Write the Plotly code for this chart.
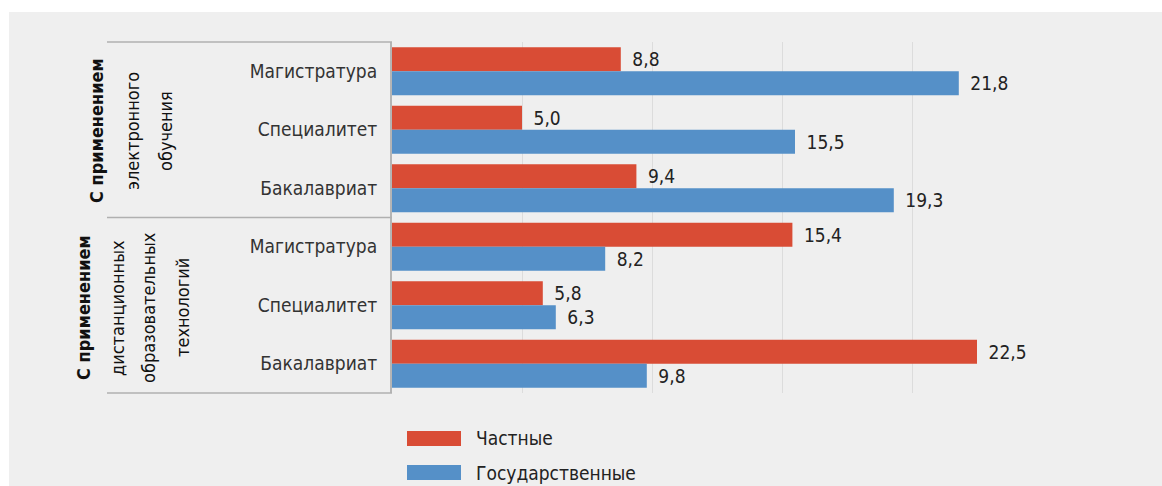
import plotly.graph_objects as go

# ---- data ----
row_ids = ["eo_mag", "eo_spec", "eo_bak", "dot_mag", "dot_spec", "dot_bak"]
row_labels = ["Магистратура", "Специалитет", "Бакалавриат",
              "Магистратура", "Специалитет", "Бакалавриат"]
private_vals = [8.8, 5.0, 9.4, 15.4, 5.8, 22.5]
state_vals = [21.8, 15.5, 19.3, 8.2, 6.3, 9.8]
series_names = ["Частные", "Государственные"]
group1_lines = ["С применением", "электронного", "обучения"]
group2_lines = ["С применением", "дистанционных", "образовательных", "технологий"]

RED = "#d94c35"
BLUE = "#5590c8"
BG = "#efefef"
TXT = "#222222"
FONT = "DejaVu Sans Condensed, Liberation Sans Narrow, Arial Narrow, sans-serif"

def fmt(v):
    return "\u2002" + f"{v:.1f}".replace(".", ",")

fig = go.Figure()
fig.add_trace(go.Bar(
    y=row_ids, x=private_vals, orientation="h", name=series_names[0],
    marker=dict(color=RED, line=dict(width=0)),
    text=[fmt(v) for v in private_vals], textposition="outside",
    textfont=dict(family=FONT, size=19, color=TXT), cliponaxis=False,
))
fig.add_trace(go.Bar(
    y=row_ids, x=state_vals, orientation="h", name=series_names[1],
    marker=dict(color=BLUE, line=dict(width=0)),
    text=[fmt(v) for v in state_vals], textposition="outside",
    textfont=dict(family=FONT, size=19, color=TXT), cliponaxis=False,
))

W, H = 1162, 486
plot_left, plot_right, plot_top, plot_bottom = 392, 1042, 42, 393  # screen px
L, R, T, B = plot_left, W - plot_right, plot_top, H - plot_bottom
pw, ph = plot_right - plot_left, plot_bottom - plot_top

def px_x(x):
    return (x - plot_left) / pw

def px_y(y):
    return (plot_bottom - y) / ph

shapes = []
# white strips at the top and left
shapes.append(dict(type="rect", xref="paper", yref="paper", x0=px_x(0), x1=px_x(1175),
                   y0=px_y(12), y1=px_y(0), fillcolor="white", line=dict(width=0), layer="above"))
shapes.append(dict(type="rect", xref="paper", yref="paper", x0=px_x(0), x1=px_x(9),
                   y0=px_y(500), y1=px_y(0), fillcolor="white", line=dict(width=0), layer="above"))
# group separator lines
for yy in [1.0, 0.5, 0.0]:
    shapes.append(dict(type="line", xref="paper", yref="paper", x0=px_x(107), x1=0,
                       y0=yy, y1=yy, line=dict(color="#b0b0b0", width=1.5)))
# legend swatches
shapes.append(dict(type="rect", xref="paper", yref="paper", x0=px_x(407), x1=px_x(461),
                   y0=px_y(431), y1=px_y(446), fillcolor=RED, line=dict(width=0)))
shapes.append(dict(type="rect", xref="paper", yref="paper", x0=px_x(407), x1=px_x(461),
                   y0=px_y(465), y1=px_y(480), fillcolor=BLUE, line=dict(width=0)))

annotations = []
for name, yc in zip(series_names, [438.5, 472.5]):
    annotations.append(dict(xref="paper", yref="paper", x=px_x(474), y=px_y(yc),
                            text=name, showarrow=False, xanchor="left", yanchor="middle",
                            font=dict(family=FONT, size=19, color=TXT)))

def add_group(lines, xcs, yc):
    for i, (line, xc) in enumerate(zip(lines, xcs)):
        txt = f"<b>{line}</b>" if i == 0 else line
        annotations.append(dict(xref="paper", yref="paper", x=px_x(xc), y=px_y(yc),
                                text=txt, showarrow=False, textangle=-90,
                                xanchor="center", yanchor="middle",
                                font=dict(family=FONT, size=18, color="#111111")))

add_group(group1_lines, [96, 132, 165], 131)
add_group(group2_lines, [83, 117, 148, 182], 308)

fig.update_layout(
    width=W, height=H,
    margin=dict(l=L, r=R, t=T, b=B, pad=0),
    paper_bgcolor=BG, plot_bgcolor=BG,
    barmode="group", bargap=0.18, bargroupgap=0.0,
    showlegend=False,
    shapes=shapes, annotations=annotations,
    xaxis=dict(range=[0, 25], dtick=5, showgrid=True, gridcolor="#dcdcdc", gridwidth=1,
               showticklabels=False, zeroline=False, showline=False, ticks=""),
    yaxis=dict(categoryorder="array", categoryarray=row_ids, autorange="reversed",
               tickvals=row_ids, ticktext=row_labels, ticks="", ticklabelstandoff=9,
               tickfont=dict(family=FONT, size=19, color="#333333"),
               showline=True, linecolor="#b5b5b5", linewidth=2, showgrid=False),
    font=dict(family=FONT),
)

fig.write_html(
    "out.html",
    config={"displayModeBar": False},
    post_script="document.body.style.margin='0px';document.body.style.overflow='hidden';",
)
